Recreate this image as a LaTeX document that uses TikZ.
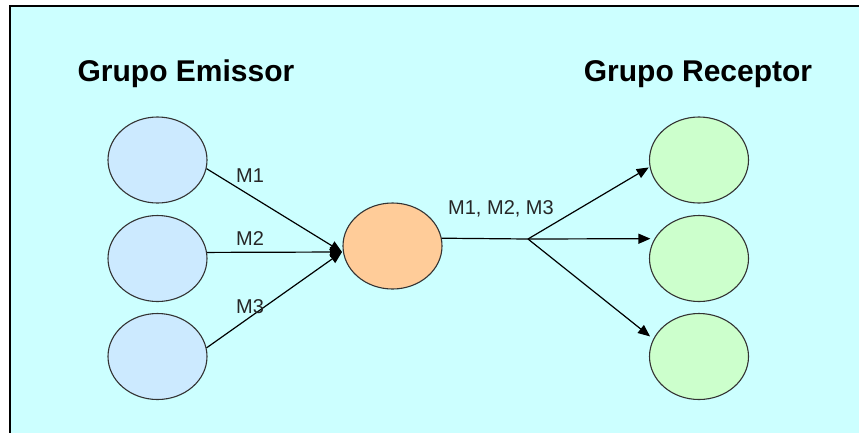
\documentclass[tikz,border=0pt]{standalone}
\usepackage{fontspec}
\setmainfont{Liberation Sans}
\usetikzlibrary{shapes.geometric,arrows.meta}
\definecolor{panelbg}{HTML}{CCFFFF}
\definecolor{sendfill}{HTML}{CCEAFF}
\definecolor{hubfill}{HTML}{FFCC99}
\definecolor{recvfill}{HTML}{CCFFCC}
\definecolor{rimcol}{HTML}{333333}
\tikzset{
  member/.style={ellipse, draw=rimcol, line width=1.1pt, minimum width=99pt, minimum height=86pt, inner sep=0pt},
  sender/.style={member, fill=sendfill},
  hub/.style={member, fill=hubfill},
  receiver/.style={member, fill=recvfill},
  title/.style={font=\bfseries\fontsize{30}{34}\selectfont, anchor=base, inner sep=0pt},
  msg/.style={font=\fontsize{20}{24}\selectfont, text=black!85, inner sep=0pt},
  link/.style={line width=1.2pt, draw=black},
  arrowlink/.style={link, -{Triangle[length=12pt, width=10pt]}}
}
\begin{document}
\begin{tikzpicture}[x=1pt, y=-1pt]
  \useasboundingbox (0,0) rectangle (859,432);
  \clip (0,0) rectangle (859,432);
  \fill[white] (0,0) rectangle (859,432);
  % panel running off the right and bottom edges
  \draw[line width=2pt, fill=panelbg] (9.5,6) rectangle (880,450);

  % group titles
  \node[title] (tsend) at (186,81) {Grupo Emissor};
  \node[title] (trecv) at (698,81) {Grupo Receptor};

  % members
  \node[sender] (s1) at (157.5,160) {};
  \node[sender] (s2) at (157.5,258.5) {};
  \node[sender] (s3) at (157.5,356.5) {};
  \node[hub] (h) at (392.5,246) {};
  \node[receiver] (r1) at (699,160) {};
  \node[receiver] (r2) at (699,258.5) {};
  \node[receiver] (r3) at (699,356.5) {};

  % meeting point of incoming messages and fork point of outgoing ones
  \coordinate (join) at (342,252);
  \coordinate (fork) at (528,239);

  % incoming messages
  \draw[arrowlink] (s1.-10) -- (join);
  \draw[arrowlink] (s2.7) -- (join);
  \draw[arrowlink] (s3.10) -- (join);

  % outgoing messages
  \draw[link] (h.9) -- (fork);
  \draw[arrowlink, shorten >=1pt] (fork) -- (r1.188);
  \draw[arrowlink, shorten >=4pt] (fork) -- (r2.156);
  \draw[arrowlink, shorten >=4pt] (fork) -- (r3.159);

  % message labels
  \node[msg] (m1) at (250,175.5) {M1};
  \node[msg] (m2) at (250,238.5) {M2};
  \node[msg] (m3) at (250,306.5) {M3};
  \node[msg] (mall) at (501,208.5) {M1, M2, M3};
\end{tikzpicture}
\end{document}
